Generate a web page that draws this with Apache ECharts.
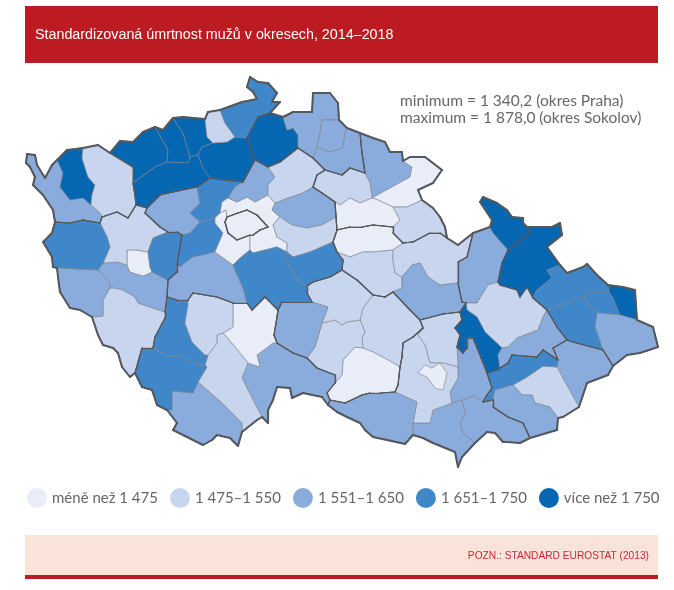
<!DOCTYPE html>
<html>
<head>
<meta charset="utf-8">
<title>Standardizovaná úmrtnost mužů</title>
<script src="https://cdn.jsdelivr.net/npm/echarts@6/dist/echarts.min.js"></script>
<style>
  html, body { margin: 0; padding: 0; background: #fff; }
  #main { width: 674px; height: 590px; }
</style>
</head>
<body>
<div id="main"></div>
<script>
// okresy, kraje a hodnoty (odhad z barevné třídy, přesné jsou jen Praha a Sokolov)
const okresy = ['Cheb','Sokolov','Karlovy Vary','Chomutov','Most','Teplice','Litoměřice','Louny','Ústí nad Labem','Děčín',
  'Česká Lípa','Liberec','Jablonec nad Nisou','Semily','Trutnov','Náchod','Jičín','Hradec Králové','Rychnov nad Kněžnou',
  'Pardubice','Chrudim','Ústí nad Orlicí','Svitavy','Šumperk','Jeseník','Bruntál','Olomouc','Prostějov','Přerov',
  'Opava','Ostrava-město','Karviná','Frýdek-Místek','Nový Jičín','Vsetín','Zlín','Kroměříž','Uherské Hradiště','Hodonín','Břeclav',
  'Vyškov','Blansko','Brno-venkov','Brno-město','Znojmo','Žďár nad Sázavou','Třebíč','Jihlava','Havlíčkův Brod','Pelhřimov',
  'Jindřichův Hradec','Tábor','České Budějovice','Český Krumlov','Prachatice','Strakonice','Písek','Klatovy','Domažlice','Plzeň-jih',
  'Plzeň-město','Plzeň-sever','Tachov','Rokycany','Rakovník','Kladno','Beroun','Příbram','Praha-západ','Praha-východ','Praha',
  'Mělník','Mladá Boleslav','Nymburk','Kolín','Kutná Hora','Benešov'];
const hodnoty = [1610,1878.0,1530,1790,1820,1770,1760,1785,1520,1700,
  1765,1590,1600,1570,1620,1465,1510,1430,1540,
  1445,1535,1525,1600,1630,1800,1810,1545,1760,1640,
  1690,1720,1790,1610,1680,1590,1530,1700,1600,1620,1610,
  1580,1500,1490,1440,1630,1530,1460,1500,1520,1600,
  1590,1470,1540,1620,1710,1690,1510,1545,1600,1570,
  1450,1540,1700,1680,1630,1720,1690,1610,1380,1410,1340.2,
  1640,1530,1600,1520,1680,1700];
const kraje = ['KVK','KVK','KVK','ULK','ULK','ULK','ULK','ULK','ULK','ULK',
  'LBK','LBK','LBK','LBK','HKK','HKK','HKK','HKK','HKK',
  'PAK','PAK','PAK','PAK','OLK','OLK','MSK','OLK','OLK','OLK',
  'MSK','MSK','MSK','MSK','MSK','ZLK','ZLK','ZLK','ZLK','JHM','JHM',
  'JHM','JHM','JHM','JHM','JHM','VYS','VYS','VYS','VYS','VYS',
  'JHC','JHC','JHC','JHC','JHC','JHC','JHC','PLK','PLK','PLK',
  'PLK','PLK','PLK','PLK','STC','STC','STC','STC','STC','STC','PHA',
  'STC','STC','STC','STC','STC','STC'];

const tridy = ['méně než 1 475','1 475–1 550','1 551–1 650','1 651–1 750','více než 1 750'];
const tridyOd = [0,1475,1551,1651,1751];
const tridyDo = [1475,1551,1651,1751,3000];
const barvy = ['#e8edf8','#c8d5ef','#8aacdc','#3f87c8','#0566b2'];

const nadpis = 'Standardizovaná úmrtnost mužů v okresech, 2014–2018';
const extremy = ['minimum = 1 340,2 (okres Praha)','maximum = 1 878,0 (okres Sokolov)'];
const poznamka = 'POZN.: STANDARD EUROSTAT (2013)';

// Brno-město leží celé uvnitř Brna-venkova, kreslí se přes něj
const enklavy = ['Brno-město'];

// obrysy okresů obkreslené z mapy
const obrysy = {
  'Cheb':'27,154 35,155 37,165 45,178 52,165 57,160 63,173 60,187 70,200 83,198 91,205 100,213 102,217 100,223 83,220 70,223 55,222 53,210 43,195 33,185 35,177 30,167 26,163',
  'Sokolov':'57,160 67,150 83,148 82,158 88,177 95,185 92,195 91,205 83,198 70,200 60,187 63,173',
  'Karlovy Vary':'83,148 98,145 110,153 133,167 133,183 135,195 136,205 128,218 117,212 102,217 100,213 91,205 92,195 95,185 88,177 82,158',
  'Chomutov':'110,153 120,141 133,142 143,132 155,127 168,150 167,162 155,167 133,183 133,167',
  'Most':'155,127 163,130 173,118 183,133 190,157 188,163 167,162 168,150',
  'Teplice':'173,118 183,117 205,119 207,137 213,143 202,147 198,155 190,157 183,133',
  'Litoměřice':'202,147 213,143 227,142 235,137 247,138 255,160 243,182 223,180 210,178 203,168 198,155',
  'Louny':'133,183 155,167 167,162 188,163 190,157 198,155 203,168 210,178 197,187 173,192 160,195 147,208 136,205 135,195',
  'Ústí nad Labem':'205,119 208,112 220,110 225,123 235,137 227,142 213,143 207,137',
  'Děčín':'220,110 242,102 257,99 253,92 247,87 250,77 258,82 268,83 277,93 272,102 280,102 270,113 258,117 247,138 235,137 225,123',
  'Česká Lípa':'258,117 270,113 283,117 287,130 293,128 298,135 298,148 280,162 268,167 255,160 247,138',
  'Liberec':'283,117 293,112 312,112 313,93 330,93 338,103 339,120 322,120 320,133 317,147 313,158 298,148 298,135 293,128 287,130',
  'Jablonec nad Nisou':'322,120 339,120 347,128 345,133 343,148 330,152 317,147 320,133',
  'Semily':'347,128 360,133 362,153 365,173 350,168 342,175 325,170 313,158 317,147 330,152 343,148 345,133',
  'Trutnov':'360,133 373,138 385,142 390,152 402,152 403,161 412,167 410,177 392,187 372,198 370,183 365,173 362,153',
  'Náchod':'403,161 410,157 425,157 442,170 433,183 418,190 422,200 407,207 393,207 378,200 372,198 392,187 410,177 412,167',
  'Jičín':'325,170 342,175 350,168 365,173 370,183 372,198 360,203 350,198 340,205 335,202 322,193 313,187 317,175',
  'Hradec Králové':'335,202 340,205 350,198 360,203 372,198 378,200 393,207 400,220 393,227 373,225 362,227 350,227 337,230 336,217',
  'Rychnov nad Kněžnou':'393,207 407,207 422,200 433,208 440,217 445,227 447,238 440,233 430,233 413,242 403,243 393,233 393,227 400,220',
  'Pardubice':'337,230 350,227 362,227 373,225 393,227 393,233 403,243 393,250 373,252 363,252 350,257 337,252 333,242',
  'Chrudim':'337,252 350,257 363,252 373,252 393,250 393,260 395,273 402,277 402,288 393,292 385,297 373,295 357,280 342,270 343,260',
  'Ústí nad Orlicí':'393,250 403,243 413,242 430,233 440,233 447,238 458,245 473,233 467,257 458,262 458,283 440,285 428,277 420,263 412,265 402,277 395,273 393,260',
  'Svitavy':'393,292 402,288 402,277 412,265 420,263 428,277 440,285 458,283 462,302 466,303 460,312 443,314 420,320 410,310',
  'Šumperk':'473,233 490,227 493,233 508,250 502,263 498,282 488,285 477,303 466,303 462,302 458,283 458,262 467,257',
  'Jeseník':'490,227 492,220 480,202 483,197 497,203 507,210 512,217 523,218 523,223 527,227 530,233 508,250 493,233',
  'Bruntál':'530,233 527,227 552,227 560,223 562,235 547,247 560,265 547,270 552,278 537,290 533,298 527,287 520,297 517,290 500,285 498,282 502,263 508,250',
  'Olomouc':'466,303 477,303 488,285 498,282 500,285 517,290 520,297 527,287 533,298 547,310 543,317 538,330 517,338 508,347 502,348 485,332 477,317 467,310',
  'Prostějov':'460,312 466,303 467,310 477,317 485,332 502,348 498,355 500,368 498,370 487,373 478,350 473,338 467,338 467,348 463,353 457,347 460,335 455,328 462,320',
  'Přerov':'547,310 557,327 567,340 553,348 558,360 543,350 537,357 512,355 508,363 500,368 498,355 502,348 508,347 517,338 538,330 543,317',
  'Opava':'560,265 567,273 583,267 587,264 597,275 608,285 609,292 585,292 584,300 575,300 547,310 533,298 537,290 552,278 547,270',
  'Ostrava-město':'585,292 609,292 613,298 620,315 597,313 593,310 584,300',
  'Karviná':'608,285 623,287 635,290 637,320 620,315 613,298 609,292',
  'Frýdek-Místek':'597,313 620,315 637,320 653,327 655,335 658,347 640,353 627,355 613,366 603,350 595,327',
  'Nový Jičín':'547,310 575,300 584,300 593,310 597,313 595,327 603,350 573,342 567,340 557,327',
  'Vsetín':'553,348 567,340 573,342 603,350 613,366 608,375 587,383 579,407 565,382 557,367 558,360',
  'Zlín':'513,385 527,377 543,366 557,367 565,382 579,407 563,417 558,418 550,407 535,403 532,395 522,395',
  'Kroměříž':'487,373 498,370 500,368 508,363 512,355 537,357 543,350 558,360 557,367 543,366 527,377 513,385 495,390 493,400 483,402 487,395 492,388',
  'Uherské Hradiště':'495,390 513,385 522,395 532,395 535,403 550,407 558,418 557,430 530,438 523,423 508,417 493,407 493,400',
  'Hodonín':'462,400 475,395 483,402 493,400 493,407 508,417 523,423 530,438 520,443 507,442 503,442 495,433 487,432 475,443 463,433 460,423 465,413',
  'Břeclav':'413,423 430,423 433,410 452,403 462,400 465,413 460,423 463,433 475,443 462,457 458,467 455,452 433,443 423,438 413,435',
  'Vyškov':'463,353 467,348 467,338 473,338 478,350 487,373 492,388 487,395 483,402 475,395 462,400 452,403 450,392 458,378 458,367 457,347',
  'Blansko':'420,320 443,314 460,312 462,320 455,328 460,335 457,347 458,367 443,363 430,363 425,345 418,335 423,328',
  'Brno-venkov':'423,328 418,335 425,345 430,363 443,363 458,367 458,378 450,392 452,403 433,410 430,423 413,423 417,402 395,392 398,385 400,367 402,357 403,343 413,337',
  'Brno-město':'418,373 425,365 432,368 440,363 447,373 443,390 435,388 427,377',
  'Znojmo':'328,405 330,400 345,403 362,395 370,393 380,393 395,392 417,402 413,423 413,435 405,444 387,440 373,437 365,430 360,423 347,417 337,412',
  'Žďár nad Sázavou':'360,320 363,308 373,295 385,297 393,292 410,310 420,320 423,328 413,337 403,343 402,357 400,367 388,360 373,352 363,348 362,338 365,332',
  'Třebíč':'355,347 363,348 373,352 388,360 400,367 398,385 395,392 380,393 370,393 362,395 345,403 330,400 327,393 335,383 342,375 343,360',
  'Jihlava':'322,323 335,320 342,325 347,322 360,320 365,332 362,338 363,348 355,347 343,360 342,375 335,383 335,375 317,368 307,358 315,347',
  'Havlíčkův Brod':'313,282 330,277 342,270 357,280 373,295 363,308 360,320 347,322 342,325 335,320 322,323 328,307 312,302 307,293 307,286',
  'Pelhřimov':'282,302 303,302 312,302 328,307 322,323 315,347 307,358 293,353 277,343 274,335 277,317 278,310',
  'Jindřichův Hradec':'277,343 293,353 307,358 317,368 335,375 335,383 327,393 330,400 328,405 322,397 303,393 292,398 290,388 277,387 273,400 268,410 268,423 262,417 253,400 242,378 248,363 260,367 257,355 273,343',
  'Tábor':'233,303 247,303 252,310 265,297 278,310 277,317 274,335 277,343 273,343 257,355 260,367 248,363 240,353 225,335 223,333 233,327',
  'České Budějovice':'217,335 223,333 225,335 240,353 248,363 242,378 253,400 262,417 257,420 242,432 242,423 222,403 198,382 207,367 205,365 208,355 217,343',
  'Český Krumlov':'198,382 222,403 242,423 242,432 238,446 230,438 217,435 212,440 203,445 187,437 173,430 177,423 167,410 172,410 172,391 193,393',
  'Prachatice':'135,373 142,348 153,348 170,357 180,355 190,363 205,365 207,367 198,382 193,393 172,391 172,410 167,410 157,405 152,390 142,387',
  'Strakonice':'167,297 177,300 188,300 188,305 185,323 192,342 205,355 208,355 205,365 190,363 180,355 170,357 153,348 155,337 165,318 165,312',
  'Písek':'188,300 193,293 217,297 233,303 233,327 223,333 217,335 217,343 208,355 205,355 192,342 185,323 188,305',
  'Klatovy':'103,300 110,288 115,288 123,290 135,297 138,303 165,312 165,318 155,337 153,348 142,348 135,373 130,377 122,367 120,360 118,353 113,348 103,345 98,335 92,317 103,316',
  'Domažlice':'57,268 98,270 110,283 110,288 103,300 103,316 92,317 80,310 70,308 60,292 58,277',
  'Plzeň-jih':'98,270 103,263 117,262 127,265 130,272 143,276 152,272 168,280 167,297 165,312 138,303 135,297 123,290 115,288 110,288 110,283',
  'Plzeň-město':'127,250 137,250 148,252 150,267 152,272 143,276 130,272 127,265',
  'Plzeň-sever':'100,223 102,217 117,212 128,218 136,205 147,208 145,213 160,227 168,232 153,238 148,252 137,250 127,250 127,265 117,262 103,263 110,247 107,237',
  'Tachov':'43,242 52,233 55,222 70,223 83,220 100,223 107,237 110,247 103,263 98,270 57,268 53,267 52,257',
  'Rokycany':'153,238 168,232 177,232 182,235 177,265 177,272 168,280 152,272 150,267 148,252',
  'Rakovník':'147,208 160,195 173,192 197,187 200,203 190,213 200,222 190,233 182,235 177,232 168,232 160,227 145,213',
  'Kladno':'197,187 210,178 223,180 243,182 235,187 228,198 222,202 220,213 215,218 200,222 190,213 200,203',
  'Beroun':'182,235 190,233 200,222 215,218 215,223 223,233 215,252 203,255 193,257 180,267 177,265',
  'Příbram':'168,280 177,272 177,265 180,267 193,257 203,255 215,252 233,265 235,270 243,288 247,303 233,303 217,297 193,293 188,300 177,300 167,297',
  'Praha-západ':'220,213 226,210 227,217 225,222 228,233 237,240 250,235 250,250 240,258 233,265 215,252 223,233 215,223 215,218',
  'Praha-východ':'222,202 228,198 237,202 247,197 255,202 268,195 275,203 272,210 280,217 273,225 277,237 287,243 287,252 277,247 253,253 250,250 250,235 253,235 260,230 268,227 257,215 247,210 238,213 227,217 226,210 220,213',
  'Praha':'227,217 238,213 247,210 257,215 268,227 260,230 253,235 250,235 237,240 228,233 225,222',
  'Mělník':'235,187 243,182 255,160 268,167 275,177 268,185 268,195 255,202 247,197 237,202 228,198',
  'Mladá Boleslav':'268,167 280,162 298,148 313,158 325,170 317,175 313,187 303,193 288,198 278,202 275,203 268,195 268,185 275,177',
  'Nymburk':'278,202 288,198 303,193 313,187 322,193 335,202 336,217 322,225 307,228 292,225 280,217 272,210 275,203',
  'Kolín':'273,225 280,217 292,225 307,228 322,225 336,217 337,230 333,242 310,252 293,257 287,252 287,243 277,237',
  'Kutná Hora':'287,252 293,257 310,252 333,242 337,252 343,260 342,270 330,277 313,282 307,286 297,280 287,262',
  'Benešov':'233,265 240,258 250,250 253,253 277,247 287,252 287,262 297,280 307,286 307,293 312,302 303,302 282,302 278,310 265,297 252,310 247,303 243,288 235,270'
};

const prstenec = (nazev) => obrysy[nazev].split(' ').map(p => p.split(',').map(Number));

const features = okresy.map(nazev => {
    const ring = prstenec(nazev);
    return {
        type: 'Feature',
        properties: { name: nazev },
        geometry: { type: 'Polygon', coordinates: [ring.concat([ring[0]])] }
    };
});
echarts.registerMap('okresy', { type: 'FeatureCollection', features });

// hrany, které patří jen jednomu okresu ze skupiny, tvoří hranici skupiny
const hranice = (vybrane) => {
    const hrany = new Map();
    vybrane.forEach(nazev => {
        const ring = prstenec(nazev);
        ring.forEach((a, i) => {
            const b = ring[(i + 1) % ring.length];
            const klic = [a.join(), b.join()].sort().join('|');
            hrany.set(klic, hrany.has(klic) ? null : [a, b]);
        });
    });
    return [...hrany.values()].filter(Boolean).map(coords => ({ coords }));
};

const bezEnklav = okresy.filter(n => !enklavy.includes(n));
const krajske = [...new Set(kraje)].flatMap(kraj =>
    hranice(bezEnklav.filter(n => kraje[okresy.indexOf(n)] === kraj))
);
const vnejsi = hranice(bezEnklav);

const chart = echarts.init(document.getElementById('main'));
const mapaBox = { left: 26, top: 77, width: 632, height: 390 };
const projection = { project: p => p, unproject: p => p };

chart.setOption({
    animation: false,
    backgroundColor: '#fff',
    title: {
        text: nadpis,
        left: 30,
        top: 23,
        textStyle: { color: '#fff', fontFamily: 'Liberation Sans', fontSize: 14.3, fontWeight: 'normal' }
    },
    visualMap: {
        type: 'piecewise',
        seriesIndex: 0,
        orient: 'horizontal',
        left: 12,
        top: 473,
        itemWidth: 20,
        itemHeight: 20,
        itemGap: 12,
        textGap: 5,
        itemSymbol: 'circle',
        selectedMode: false,
        hoverLink: false,
        textStyle: { color: '#666', fontFamily: 'Lato', fontSize: 15 },
        pieces: tridy.map((label, i) => ({ label, gte: tridyOd[i], lt: tridyDo[i], color: barvy[i] }))
    },
    geo: {
        map: 'okresy',
        projection,
        ...mapaBox,
        silent: true,
        roam: false,
        label: { show: false },
        itemStyle: { areaColor: 'transparent', borderWidth: 0 }
    },
    series: [
        {
            type: 'map',
            map: 'okresy',
            projection,
            ...mapaBox,
            roam: false,
            silent: true,
            label: { show: false },
            itemStyle: { borderColor: '#7d8186', borderWidth: 0.6 },
            data: okresy.map((name, i) => ({ name, value: hodnoty[i] }))
        },
        {
            type: 'lines',
            coordinateSystem: 'geo',
            silent: true,
            lineStyle: { color: '#55585c', width: 1.2, opacity: 1, cap: 'round' },
            data: krajske
        },
        {
            type: 'lines',
            coordinateSystem: 'geo',
            silent: true,
            lineStyle: { color: '#55585c', width: 2, opacity: 1, cap: 'round' },
            data: vnejsi
        }
    ],
    graphic: [
        { type: 'rect', z: -1, shape: { x: 25, y: 6, width: 633, height: 57 }, style: { fill: '#bb1b21' } },
        { type: 'rect', z: -1, shape: { x: 25, y: 535, width: 633, height: 41 }, style: { fill: '#fae3d9' } },
        { type: 'rect', z: -1, shape: { x: 25, y: 575, width: 633, height: 4 }, style: { fill: '#bb1b21' } },
        { type: 'text', x: 400, y: 93, style: { text: extremy[0], fill: '#666', font: '15.5px Lato' } },
        { type: 'text', x: 400, y: 110, style: { text: extremy[1], fill: '#666', font: '15.5px Lato' } },
        { type: 'text', x: 649, y: 551, style: { text: poznamka, fill: '#c8283a', font: '10.2px "Liberation Sans"', align: 'right' } }
    ]
});
</script>
</body>
</html>
